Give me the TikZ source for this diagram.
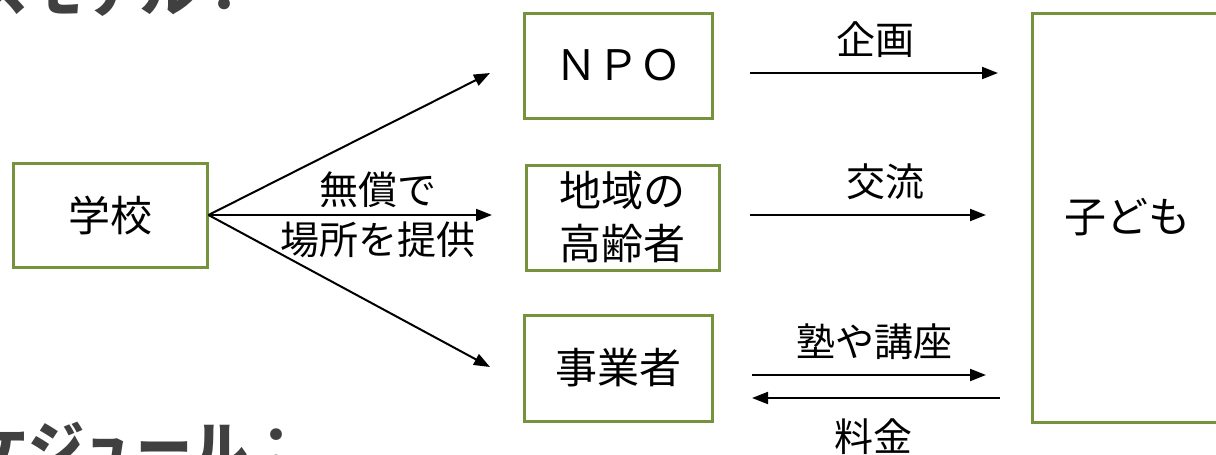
\documentclass[tikz,border=0pt]{standalone}
\usepackage{fontspec}
\setmainfont{Noto Sans CJK JP}
\usetikzlibrary{arrows.meta}
\definecolor{boxgreen}{HTML}{76923C}
\definecolor{hdrgray}{HTML}{404040}
\begin{document}
\begin{tikzpicture}[x=1pt,y=-1pt,
  box/.style={draw=boxgreen, line width=3pt, inner sep=0pt, align=center, font=\fontsize{42}{53}\selectfont},
  lbl/.style={inner sep=0pt, align=center, font=\fontsize{39}{50}\selectfont},
  arr/.style={line width=2pt, -{Triangle[length=16pt,width=12pt]}},
  hdr/.style={inner sep=0pt, text=hdrgray, font=\fontsize{56}{60}\selectfont\bfseries}]
\useasboundingbox (0,0) rectangle (1216,455);
\begin{scope}
\clip (0,0) rectangle (1216,455);
\fill[white] (0,0) rectangle (1216,455);
\node[hdr, anchor=base east] (h1) at (253,12) {ビジネスモデル：};
\node[hdr, anchor=base east] (h2) at (305,468) {スケジュール：};

\node[box, minimum width=194pt, minimum height=104pt] (school) at (110,215) {学校};
\node[box, minimum width=188pt, minimum height=105pt] (npo) at (618,65.5) {ＮＰＯ};
\node[box, minimum width=193pt, minimum height=105pt] (elder) at (622.5,217.5) {地域の\\高齢者};
\node[box, minimum width=188pt, minimum height=106pt] (biz) at (618,368) {事業者};
\node[box, minimum width=190pt, minimum height=409pt] (child) at (1127,217.5) {子ども};

\coordinate (tNPO) at (490,73);
\coordinate (tEld) at (492,215);
\coordinate (tBiz) at (490,367);
\draw[arr] (school.east) -- (tNPO);
\draw[arr] (school.east) -- (tEld);
\draw[arr] (school.east) -- (tBiz);
\node[lbl] (free) at (378,215) {無償で\\場所を提供};

\coordinate (s1) at (750,73);  \coordinate (e1) at (998,73);
\coordinate (s2) at (750,215); \coordinate (e2) at (986,215);
\coordinate (s3) at (752,375); \coordinate (e3) at (986,375);
\coordinate (s4) at (1000,398); \coordinate (e4) at (752,398);
\draw[arr] (s1) -- (e1);
\draw[arr] (s2) -- (e2);
\draw[arr] (s3) -- (e3);
\draw[arr] (s4) -- (e4);
\node[lbl] (plan) at (875,40) {企画};
\node[lbl] (kouryu) at (885,182) {交流};
\node[lbl] (juku) at (874,342) {塾や講座};
\node[lbl] (fee) at (873,437) {料金};
\end{scope}
\end{tikzpicture}
\end{document}
